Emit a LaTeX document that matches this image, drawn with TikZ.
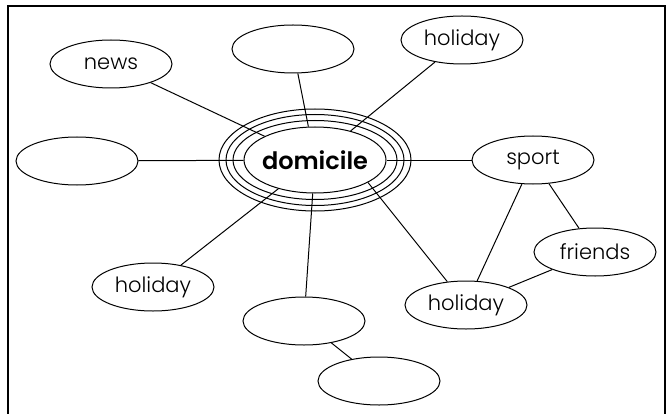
\documentclass[tikz,border=0pt]{standalone}
\usepackage{fontspec}
\setmainfont{Poppins}[UprightFont=* Light, BoldFont=* SemiBold]
\usetikzlibrary{shapes.geometric}

\tikzset{
  bubble/.style={draw, ellipse, line width=1pt, inner sep=0pt,
    minimum width=122pt, minimum height=48pt, font=\fontsize{21}{21}\selectfont},
  link/.style={line width=1pt}
}

\begin{document}
\begin{tikzpicture}[x=1pt,y=-1pt]
    \useasboundingbox (0,0) rectangle (668,414);
    % open frame, no bottom edge
    \draw[line width=2.2pt] (8,420) -- (8,6) -- (665,6) -- (665,420);
    % centre word with its rings
    \node[draw, ellipse, line width=1pt, inner xsep=-8pt, inner ysep=0pt,
      minimum width=142pt, minimum height=66pt,
      font=\fontsize{24}{24}\selectfont\bfseries]
      (dom) at (315,160) {domicile};
    \foreach \rx/\ry in {82/39.5,89/45.5,96/51}
      \draw[line width=1pt] (dom.center) ellipse ({\rx pt} and {\ry pt});
    % the outer words
    \node[bubble] (news) at (111,64) {news};
    \node[bubble] (top) at (293,49) {};
    \node[bubble] (holA) at (462,40) {holiday};
    \node[bubble] (left) at (77,161) {};
    \node[bubble] (sport) at (533,160) {sport};
    \node[bubble] (friends) at (595,252) {friends};
    \node[bubble] (holB) at (466,305) {holiday};
    \node[bubble] (holC) at (153,287) {holiday};
    \node[bubble] (low) at (304,321) {};
    \node[bubble] (lowB) at (379,381) {};
    % links
    \draw[link] (news) -- (dom);
    \draw[link] (top) -- (dom);
    \draw[link] (holA) -- (dom);
    \draw[link] (left) -- (dom);
    \draw[link] (sport) -- (dom);
    \draw[link] (holC) -- (dom);
    \draw[link] (low) -- (dom);
    \draw[link] (holB) -- (dom.-23);
    \draw[link] (sport) -- (holB);
    \draw[link] (sport) -- (friends);
    \draw[link] (friends) -- (holB);
    \draw[link] (low) -- (lowB);
\end{tikzpicture}
\end{document}
